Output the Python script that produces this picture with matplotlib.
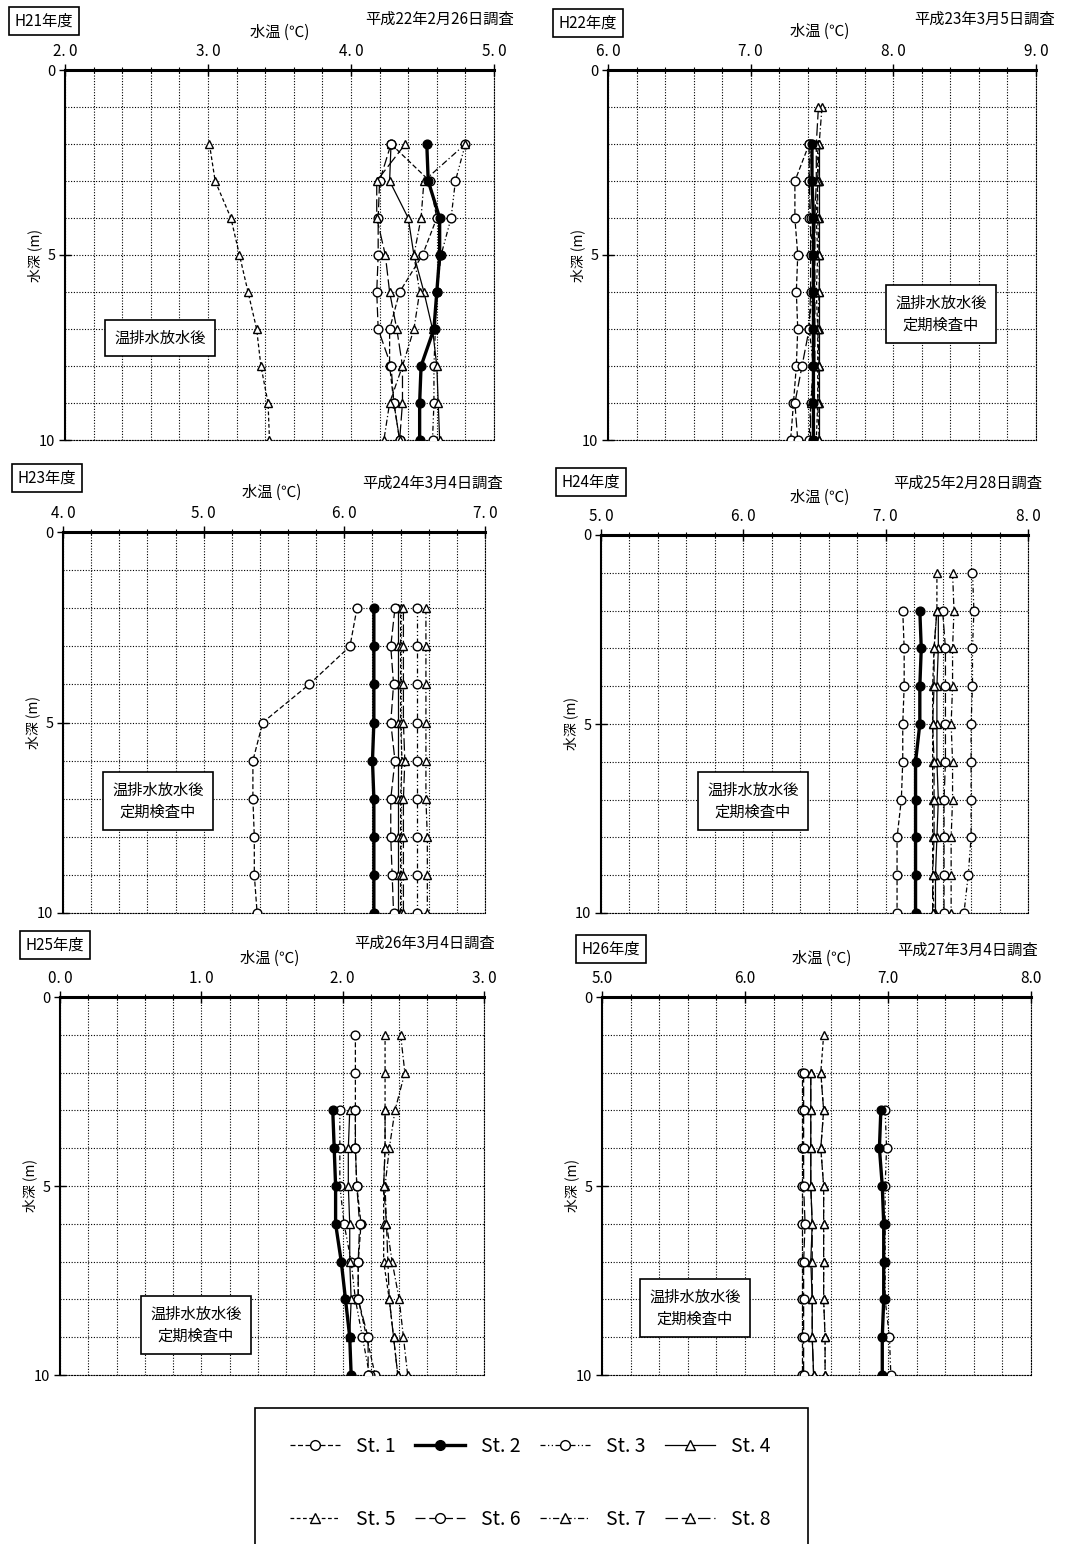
# Water temperature profiles (St.1 - St.8), winter surveys H21 - H26

import numpy as np
import matplotlib
matplotlib.use("Agg")
import matplotlib.pyplot as plt
from matplotlib.lines import Line2D
from matplotlib.patches import Rectangle
from matplotlib.ticker import MultipleLocator

plt.rcParams['font.family'] = ['Noto Sans CJK JP', 'DejaVu Sans']

W, H = 1081, 1544

depths = [1, 2, 3, 4, 5, 6, 7, 8, 9, 10]
stations = ["St. 1", "St. 2", "St. 3", "St. 4", "St. 5", "St. 6", "St. 7", "St. 8"]

# temperatures per station, depth 1..10 m (None = not measured)
h21_temps = [
    [None, 4.28, 4.55, 4.60, 4.50, 4.34, 4.27, 4.27, 4.30, 4.34],
    [None, 4.53, 4.54, 4.62, 4.62, 4.60, 4.58, 4.49, 4.48, 4.48],
    [None, 4.80, 4.73, 4.70, 4.63, 4.60, 4.59, 4.58, 4.58, 4.57],
    [None, 4.28, 4.27, 4.40, 4.44, 4.51, 4.57, 4.60, 4.61, 4.62],
    [None, 3.01, 3.05, 3.16, 3.22, 3.28, 3.34, 3.37, 3.42, 3.43],
    [None, 4.28, 4.20, 4.19, 4.19, 4.18, 4.19, 4.28, 4.30, 4.34],
    [None, 4.80, 4.51, 4.49, 4.44, 4.48, 4.44, 4.36, 4.27, 4.23],
    [None, 4.38, 4.18, 4.18, 4.24, 4.27, 4.32, 4.36, 4.36, 4.34],
]
h22_temps = [
    [None, 7.41, 7.31, 7.31, 7.33, 7.32, 7.33, 7.32, 7.30, 7.28],
    [None, 7.43, 7.43, 7.44, 7.44, 7.44, 7.44, 7.44, 7.44, 7.44],
    [None, 7.42, 7.41, 7.41, 7.44, 7.43, 7.41, 7.44, 7.42, 7.41],
    [None, 7.48, 7.48, 7.48, 7.48, 7.48, 7.48, 7.48, 7.48, 7.48],
    [None, 7.47, 7.47, 7.46, 7.47, 7.46, 7.47, 7.47, 7.47, 7.46],
    [None, 7.41, 7.41, 7.42, 7.42, 7.42, 7.41, 7.36, 7.31, 7.33],
    [7.50, 7.48, 7.47, 7.47, 7.48, 7.48, 7.47, 7.48, 7.47, 7.48],
    [7.475, 7.46, 7.46, 7.45, 7.45, 7.45, 7.45, 7.45, 7.42, 7.42],
]
h23_temps = [
    [None, 6.09, 6.04, 5.75, 5.42, 5.35, 5.35, 5.36, 5.36, 5.38],
    [None, 6.21, 6.21, 6.21, 6.21, 6.20, 6.21, 6.21, 6.21, 6.21],
    [None, 6.52, 6.52, 6.52, 6.52, 6.52, 6.52, 6.52, 6.52, 6.52],
    [None, 6.38, 6.38, 6.38, 6.38, 6.38, 6.38, 6.38, 6.38, 6.38],
    [None, 6.40, 6.40, 6.40, 6.40, 6.41, 6.40, 6.40, 6.40, 6.40],
    [None, 6.36, 6.33, 6.35, 6.33, 6.36, 6.33, 6.33, 6.34, 6.35],
    [None, 6.58, 6.58, 6.58, 6.58, 6.58, 6.58, 6.59, 6.59, 6.59],
    [None, 6.42, 6.42, 6.42, 6.42, 6.43, 6.42, 6.42, 6.42, 6.42],
]
h24_temps = [
    [None, 7.12, 7.13, 7.13, 7.12, 7.12, 7.11, 7.08, 7.08, 7.08],
    [None, 7.24, 7.25, 7.24, 7.24, 7.21, 7.21, 7.21, 7.21, 7.21],
    [7.61, 7.62, 7.61, 7.61, 7.60, 7.60, 7.60, 7.60, 7.58, 7.55],
    [None, 7.37, 7.37, 7.36, 7.36, 7.36, 7.37, 7.36, 7.35, 7.35],
    [7.36, 7.36, 7.34, 7.33, 7.33, 7.33, 7.33, 7.33, 7.33, 7.34],
    [None, 7.40, 7.42, 7.42, 7.42, 7.42, 7.41, 7.41, 7.41, 7.41],
    [7.47, 7.48, 7.47, 7.47, 7.46, 7.47, 7.47, 7.46, 7.46, 7.46],
    [None, 7.36, 7.34, 7.34, 7.33, 7.34, 7.34, 7.34, 7.33, 7.33],
]
h25_temps = [
    [2.09, 2.09, 2.09, 2.09, 2.10, 2.13, 2.11, 2.11, 2.17, 2.23],
    [None, None, 1.93, 1.94, 1.95, 1.95, 1.99, 2.02, 2.05, 2.06],
    [None, None, 1.98, 1.98, 1.98, 2.01, 2.06, 2.09, 2.14, 2.19],
    [None, None, 2.05, 2.04, 2.04, 2.05, 2.05, 2.06, 2.05, 2.06],
    [2.30, 2.30, 2.30, 2.30, 2.29, 2.29, 2.29, 2.33, 2.36, 2.39],
    [None, None, 2.09, 2.09, 2.10, 2.12, 2.11, 2.11, 2.18, 2.18],
    [2.41, 2.44, 2.37, 2.33, 2.30, 2.31, 2.35, 2.40, 2.43, 2.46],
    [None, None, 2.30, 2.30, 2.29, 2.31, 2.32, 2.33, 2.36, 2.39],
]
h26_temps = [
    [None, 6.40, 6.40, 6.40, 6.40, 6.40, 6.40, 6.40, 6.40, 6.40],
    [None, None, 6.95, 6.94, 6.96, 6.97, 6.97, 6.97, 6.96, 6.96],
    [None, None, 6.98, 6.99, 6.98, 6.98, 6.98, 6.98, 7.01, 7.02],
    [None, 6.46, 6.46, 6.46, 6.46, 6.47, 6.46, 6.47, 6.47, 6.48],
    [6.55, 6.53, 6.55, 6.53, 6.55, 6.55, 6.55, 6.55, 6.56, 6.56],
    [None, 6.41, 6.41, 6.41, 6.41, 6.42, 6.41, 6.41, 6.41, 6.41],
    [None, 6.53, 6.55, 6.53, 6.55, 6.55, 6.55, 6.55, 6.56, 6.56],
    [None, 6.46, 6.46, 6.46, 6.46, 6.47, 6.47, 6.47, 6.47, 6.48],
]

years = ["H21年度", "H22年度", "H23年度", "H24年度", "H25年度", "H26年度"]
dates = ["平成22年2月26日調査", "平成23年3月5日調査", "平成24年3月4日調査",
         "平成25年2月28日調査", "平成26年3月4日調査", "平成27年3月4日調査"]
notes = ["温排水放水後", "温排水放水後\n定期検査中", "温排水放水後\n定期検査中",
         "温排水放水後\n定期検査中", "温排水放水後\n定期検査中", "温排水放水後\n定期検査中"]
xmins = [2, 6, 4, 5, 0, 5]
all_temps = [h21_temps, h22_temps, h23_temps, h24_temps, h25_temps, h26_temps]

# line style per station: (linestyle, marker, filled, linewidth)
styles = [
    ((0, (4, 2)), 'o', False, 0.9),
    ('-', 'o', True, 2.4),
    ((0, (4, 2, 1, 2, 1, 2)), 'o', False, 0.9),
    ('-', '^', False, 0.9),
    ((0, (3, 2)), '^', False, 0.9),
    ((0, (8, 3)), 'o', False, 0.9),
    ((0, (5, 2, 1, 2)), '^', False, 0.9),
    ((0, (10, 3)), '^', False, 0.9),
]


def fx(x):
    return x / W


def fy(y):
    return 1 - y / H


def fmt_tick(v, compact):
    return f"{v:.1f}" if compact else f"{v:.0f}. {int(round(v * 10)) % 10}"


# plot areas in pixels: (x0, x1, ytop, ybottom)
boxes = [(65, 494, 70, 440), (608, 1036, 70, 440),
         (63, 485, 532, 913), (601, 1028, 535, 913),
         (60, 484, 997, 1375), (602, 1031, 997, 1375)]

# text positions (pixels)
year_pos = [(44, 21), (588, 23), (47, 478), (591, 482), (55, 945), (611, 949)]
date_pos = [(440, 19), (985, 19), (433, 483), (968, 483), (425, 943), (968, 950)]
unit_pos = [(280, 32), (820, 31), (272, 492), (820, 497), (270, 958), (822, 958)]
note_pos = [(160, 338), (941, 314), (158, 801), (753, 801), (196, 1325), (695, 1308)]

fig = plt.figure(figsize=(W / 100, H / 100), dpi=100)

for i in range(6):
    x0, x1, y0, y1 = boxes[i]
    ax = fig.add_axes([fx(x0), fy(y1), (x1 - x0) / W, (y1 - y0) / H])

    for k in range(8):
        ls, mk, filled, lw = styles[k]
        vals = np.array([np.nan if v is None else v for v in all_temps[i][k]], dtype=float)
        ax.plot(vals, depths, linestyle=ls, color='black', lw=lw, marker=mk,
                markersize=6.3, markerfacecolor='black' if filled else 'white',
                markeredgecolor='black', markeredgewidth=1.0, zorder=3 + (k == 1))

    lo = xmins[i]
    ax.set_xlim(lo, lo + 3)
    ax.set_ylim(10, 0)
    ax.xaxis.set_ticks_position('top')
    ax.xaxis.set_minor_locator(MultipleLocator(0.2))
    ax.yaxis.set_minor_locator(MultipleLocator(1))
    ax.set_xticks([lo, lo + 1, lo + 2, lo + 3])
    ax.set_xticklabels([fmt_tick(v, i == 5) for v in [lo, lo + 1, lo + 2, lo + 3]], fontsize=11)
    ax.set_yticks([0, 5, 10])
    ax.set_yticklabels(["0", "5", "10"], fontsize=10.5)
    ax.tick_params(axis='both', which='major', direction='inout', length=8, width=1.0, pad=3)
    ax.tick_params(axis='x', which='minor', direction='inout', length=4, width=0.8)
    ax.tick_params(axis='y', which='minor', length=0)
    ax.grid(True, which='both', color='black', linestyle=(0, (1, 1.5)), lw=0.8)
    ax.set_axisbelow(True)
    ax.spines['top'].set_linewidth(2.2)
    ax.spines['left'].set_linewidth(1.5)
    for s in ['right', 'bottom']:
        ax.spines[s].set_linestyle((0, (1, 1.5)))
        ax.spines[s].set_linewidth(0.8)

    fig.text(fx(year_pos[i][0]), fy(year_pos[i][1]), years[i], fontsize=11, ha='center', va='center',
             bbox=dict(boxstyle='square,pad=0.35', fc='white', ec='black', lw=1.2))
    fig.text(fx(date_pos[i][0]), fy(date_pos[i][1]), dates[i], fontsize=11, ha='center', va='center')
    fig.text(fx(unit_pos[i][0]), fy(unit_pos[i][1]), "水温 (℃)", fontsize=11, ha='center', va='center')
    fig.text(fx(note_pos[i][0]), fy(note_pos[i][1]), notes[i], fontsize=11, ha='center', va='center',
             linespacing=1.4,
             bbox=dict(boxstyle='square,pad=0.6', fc='white', ec='black', lw=1.2))
    fig.text(fx(x0 - 30), fy((y0 + y1) / 2), "水深 (m)", fontsize=10, rotation=90, ha='center', va='center')

# legend
handles = []
for k in range(8):
    ls, mk, filled, lw = styles[k]
    handles.append(Line2D([], [], linestyle=ls, color='black', lw=lw, marker=mk, markersize=7,
                          markerfacecolor='black' if filled else 'white', markeredgecolor='black'))
order = [0, 4, 1, 5, 2, 6, 3, 7]
fig.legend([handles[j] for j in order], [stations[j] for j in order], ncol=4,
           loc='upper left', bbox_to_anchor=(fx(272), fy(1418)), frameon=False,
           fontsize=14, handlelength=2.6, columnspacing=1.0, labelspacing=2.7, handletextpad=0.8)
fig.patches.append(Rectangle((fx(255), fy(1550)), (808 - 255) / W, (1550 - 1408) / H,
                             transform=fig.transFigure, fill=False, ec='black', lw=1.2))

fig.savefig("out.png", dpi=100)
